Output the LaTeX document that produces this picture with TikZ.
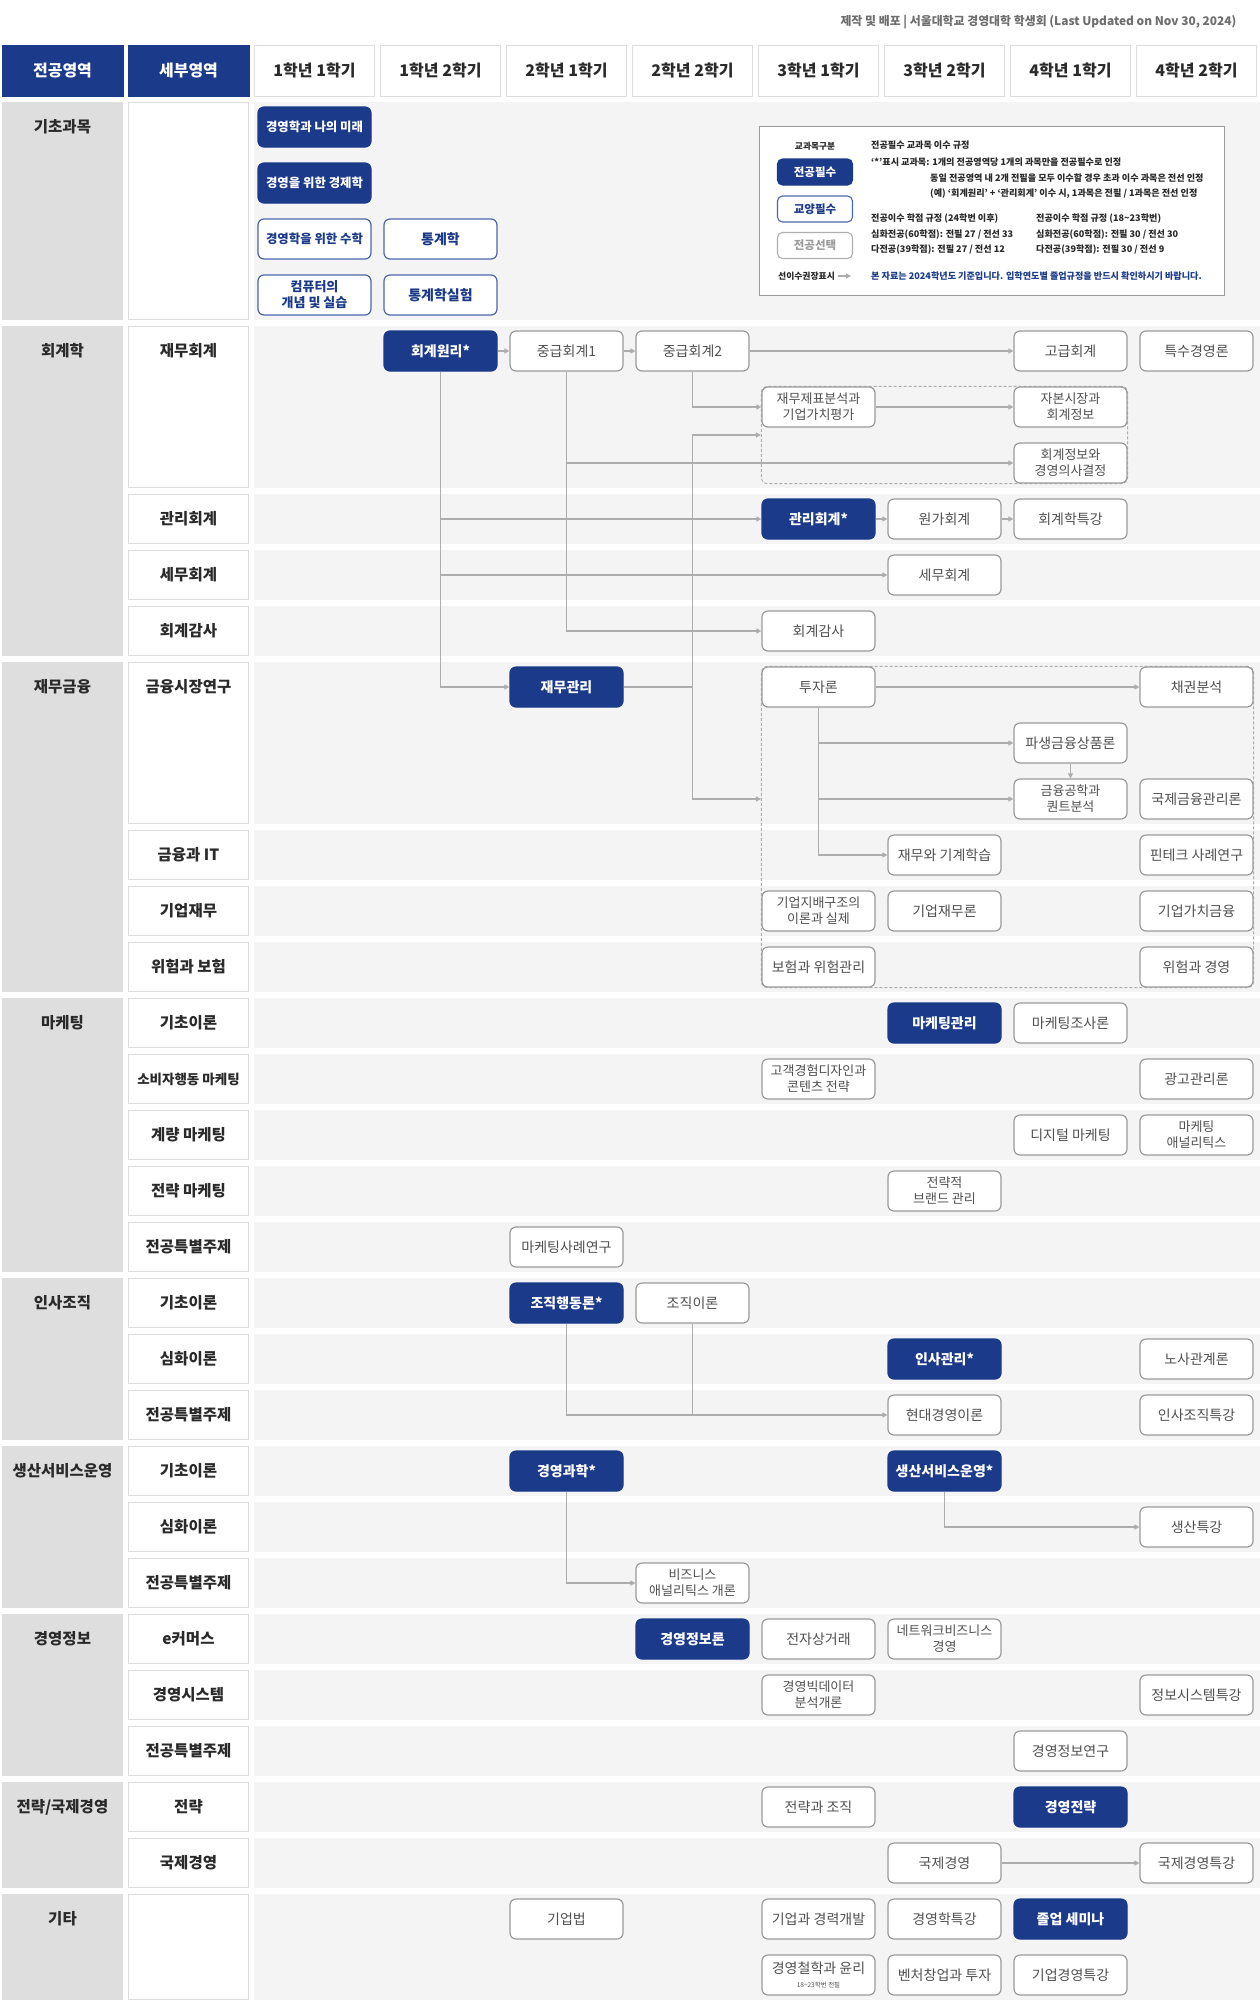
\documentclass[tikz,border=0pt]{standalone}
\usepackage{fontspec}
\setmainfont{Noto Sans CJK KR}
\usetikzlibrary{arrows.meta,fit}
\pgfdeclarelayer{background}
\pgfsetlayers{background,main}

\definecolor{navy}{HTML}{1B3A8A}
\definecolor{libblue}{HTML}{4D66AC}
\definecolor{elecgray}{HTML}{9B9B9B}
\definecolor{electext}{HTML}{505050}
\definecolor{bandgray}{HTML}{F4F4F4}
\definecolor{areagray}{HTML}{DEDEDE}
\definecolor{cellline}{HTML}{DDDDDD}
\definecolor{linkgray}{HTML}{ADADAD}
\definecolor{darktext}{HTML}{2A2A2A}
\definecolor{notegray}{HTML}{6E6E6E}

\newcommand\coursefont{\fontsize{14}{17}\selectfont}
\newcommand\twofont{\fontsize{13}{16}\selectfont}
\newcommand\longfont{\fontsize{12.4}{15}\selectfont}
\newcommand\hdrfont{\fontsize{16}{19}\selectfont\bfseries}
\newcommand\areafont{\fontsize{15.5}{18}\selectfont\bfseries}
\newcommand\legendfont{\fontsize{9.1}{11}\selectfont\bfseries}

\tikzset{
  hdr/.style={draw=navy, fill=navy, text=white, font=\hdrfont, minimum width=121pt, minimum height=51pt, inner sep=0pt},
  semhdr/.style={draw=cellline, fill=white, text=darktext, font=\hdrfont, minimum width=120pt, minimum height=51pt, inner sep=0pt},
  arealabel/.style={text=darktext, font=\areafont, inner sep=0pt},
  sublabel/.style={text=darktext, font=\areafont, inner sep=0pt},
  course/.style={rounded corners=6pt, minimum width=113pt, minimum height=40pt, inner sep=1pt, align=center, line width=1.2pt},
  req/.style={course, draw=navy, fill=navy, text=white, font=\coursefont\bfseries},
  lib/.style={course, draw=libblue, fill=white, text=navy, font=\coursefont\bfseries},
  elec/.style={course, draw=elecgray, fill=white, text=electext, font=\coursefont},
  elec2/.style={elec, font=\twofont},
  joinline/.style={draw=linkgray, line width=1.3pt},
  link/.style={joinline, -{Triangle[length=5pt,width=5pt]}},
  group/.style={draw=linkgray, line width=0.9pt, dash pattern=on 3pt off 2pt, rounded corners=6pt, inner sep=0pt},
  legend/.style={draw=elecgray, fill=white, line width=1pt, minimum width=465pt, minimum height=169pt, inner sep=0pt},
  legbox/.style={course, minimum width=75pt, minimum height=26pt, rounded corners=5pt, line width=1.1pt, font=\fontsize{11.5}{13}\selectfont\bfseries},
  legtxt/.style={anchor=west, inner sep=0pt, text=darktext, font=\legendfont},
}

\begin{document}
\begin{tikzpicture}[x=1pt,y=-1pt]
  \useasboundingbox (0,0) rectangle (1260,2003);
  % grid of columns and row slots
  \foreach \i in {0,...,9} \coordinate (c\i) at ({62.5+126*\i},0);
  \foreach \k in {0,...,33} \coordinate (r\k) at (0,{127+56*\k});
  \coordinate (rh) at (0,70.5);

  \node[anchor=east, text=notegray, font=\fontsize{11.9}{14}\selectfont\bfseries] (credit) at (1240,22) {제작 및 배포 | 서울대학교 경영대학 학생회 (Last Updated on Nov 30, 2024)};

  % header
  \node[hdr] (hdarea) at (c0 |- rh) {전공영역};
  \node[hdr] (hdsub) at (c1 |- rh) {세부영역};
  \foreach \i [evaluate=\i as \yr using {int((\i-2)/2+1)}, evaluate=\i as \sm using {int(mod(\i,2)+1)}] in {2,...,9}
    \node[semhdr] (sem\i) at (c\i |- rh) {\yr{}학년 \sm{}학기};

  % bands
  \begin{pgfonlayer}{background}
    \fill[white] (0,0) rectangle (1260,2003);
    \foreach \k/\nr/\lab in {0/4/기초과목, 4/6/회계학, 10/6/재무금융, 16/5/마케팅, 21/3/인사조직, 24/3/생산서비스운영, 27/3/경영정보, 30/2/{전략/국제경영}, 32/2/기타} {
      \fill[areagray] (2,{102+56*\k}) rectangle (123,{96+56*(\k+\nr)});
      \node[arealabel] (area\k) at (c0 |- r\k) {\lab};
    }
    \foreach \k/\nr/\lab in {0/4/{}, 4/3/재무회계, 7/1/관리회계, 8/1/세무회계, 9/1/회계감사, 10/3/금융시장연구, 13/1/금융과 IT, 14/1/기업재무, 15/1/위험과 보험, 16/1/기초이론, 17/1/{\fontsize{13.5}{16}\selectfont 소비자행동 마케팅}, 18/1/계량 마케팅, 19/1/전략 마케팅, 20/1/전공특별주제, 21/1/기초이론, 22/1/심화이론, 23/1/전공특별주제, 24/1/기초이론, 25/1/심화이론, 26/1/전공특별주제, 27/1/e커머스, 28/1/경영시스템, 29/1/전공특별주제, 30/1/전략, 31/1/국제경영, 32/2/{}} {
      \fill[bandgray] (254,{102+56*\k}) rectangle (1260,{96+56*(\k+\nr)});
      \draw[cellline, fill=white] (128.5,{102.5+56*\k}) rectangle (248.5,{95.5+56*(\k+\nr)});
      \node[sublabel] (sub\k) at (c1 |- r\k) {\lab};
    }
  \end{pgfonlayer}

  % legend
  \node[legend] (legend) at (991.5,210.5) {};
  \node[text=darktext, font=\fontsize{8.7}{10}\selectfont\bfseries, inner sep=0pt] (lgcat) at (815,146) {교과목구분};
  \node[legbox, draw=navy, fill=navy, text=white] (lgreq) at (815,172) {전공필수};
  \node[legbox, draw=libblue, fill=white, text=navy] (lglib) at (815,209) {교양필수};
  \node[legbox, draw=elecgray!80, fill=white, text=elecgray] (lgelec) at (815,245.5) {전공선택};
  \node[legtxt, font=\fontsize{8.8}{10}\selectfont\bfseries] (lgpre) at (778,276) {선이수권장표시};
  \coordinate (lgpreend) at ([xshift=16pt]lgpre.east);
  \draw[link] ([xshift=3pt]lgpre.east) -- (lgpreend);
  \node[legtxt] (rule1) at (871,145) {전공필수 교과목 이수 규정};
  \node[legtxt] (rule2) at (871,162) {`*'표시 교과목: 1개의 전공영역당 1개의 과목만을 전공필수로 인정};
  \node[legtxt] (rule3) at (930,178.5) {동일 전공영역 내 2개 전필을 모두 이수할 경우 초과 이수 과목은 전선 인정};
  \node[legtxt] (rule4) at (930,194) {(예) `회계원리' + `관리회계' 이수 시, 1과목은 전필 / 1과목은 전선 인정};
  \node[legtxt] (cred1) at (871,219) {전공이수 학점 규정 (24학번 이후)};
  \node[legtxt] (cred2) at (871,234.5) {심화전공(60학점): 전필 27 / 전선 33};
  \node[legtxt] (cred3) at (871,250) {다전공(39학점): 전필 27 / 전선 12};
  \node[legtxt] (old1) at (1036,219) {전공이수 학점 규정 (18\textasciitilde23학번)};
  \node[legtxt] (old2) at (1036,234.5) {심화전공(60학점): 전필 30 / 전선 30};
  \node[legtxt] (old3) at (1036,250) {다전공(39학점): 전필 30 / 전선 9};
  \node[legtxt, text=navy] (notice) at (871,276) {본 자료는 2024학년도 기준입니다. 입학연도별 졸업규정을 반드시 확인하시기 바랍니다.};

  % 기초과목
  \node[req, font=\longfont\bfseries] (intro) at (c2 |- r0) {경영학과 나의 미래};
  \node[req, font=\longfont\bfseries] (econ) at (c2 |- r1) {경영을 위한 경제학};
  \node[lib, font=\longfont\bfseries] (math) at (c2 |- r2) {경영학을 위한 수학};
  \node[lib] (stat) at (c3 |- r2) {통계학};
  \node[lib, font=\twofont\bfseries] (comp) at (c2 |- r3) {컴퓨터의\\개념 및 실습};
  \node[lib] (statlab) at (c3 |- r3) {통계학실험};

  % 회계학
  \node[req] (acct) at (c3 |- r4) {회계원리*};
  \node[elec] (ia1) at (c4 |- r4) {중급회계1};
  \node[elec] (ia2) at (c5 |- r4) {중급회계2};
  \node[elec] (adv) at (c8 |- r4) {고급회계};
  \node[elec] (spec) at (c9 |- r4) {특수경영론};
  \node[elec2] (fsa) at (c6 |- r5) {재무제표분석과\\기업가치평가};
  \node[elec2] (capm) at (c8 |- r5) {자본시장과\\회계정보};
  \node[elec2] (aidm) at (c8 |- r6) {회계정보와\\경영의사결정};
  \node[req] (mgacct) at (c6 |- r7) {관리회계*};
  \node[elec] (cost) at (c7 |- r7) {원가회계};
  \node[elec] (acsp) at (c8 |- r7) {회계학특강};
  \node[elec] (tax) at (c7 |- r8) {세무회계};
  \node[elec] (audit) at (c6 |- r9) {회계감사};

  % 재무금융
  \node[req] (fin) at (c4 |- r10) {재무관리};
  \node[elec] (invest) at (c6 |- r10) {투자론};
  \node[elec] (bond) at (c9 |- r10) {채권분석};
  \node[elec] (deriv) at (c8 |- r11) {파생금융상품론};
  \node[elec2] (quant) at (c8 |- r12) {금융공학과\\퀀트분석};
  \node[elec] (intfin) at (c9 |- r12) {국제금융관리론};
  \node[elec] (fml) at (c7 |- r13) {재무와 기계학습};
  \node[elec] (fintech) at (c9 |- r13) {핀테크 사례연구};
  \node[elec2] (gov) at (c6 |- r14) {기업지배구조의\\이론과 실제};
  \node[elec] (corpfin) at (c7 |- r14) {기업재무론};
  \node[elec] (valfin) at (c9 |- r14) {기업가치금융};
  \node[elec] (insur) at (c6 |- r15) {보험과 위험관리};
  \node[elec] (riskmgt) at (c9 |- r15) {위험과 경영};

  % 마케팅
  \node[req] (mkt) at (c7 |- r16) {마케팅관리};
  \node[elec] (mktres) at (c8 |- r16) {마케팅조사론};
  \node[elec2] (cx) at (c6 |- r17) {고객경험디자인과\\콘텐츠 전략};
  \node[elec] (ad) at (c9 |- r17) {광고관리론};
  \node[elec] (digital) at (c8 |- r18) {디지털 마케팅};
  \node[elec2] (analytics) at (c9 |- r18) {마케팅\\애널리틱스};
  \node[elec2] (brand) at (c7 |- r19) {전략적\\브랜드 관리};
  \node[elec] (mktcase) at (c4 |- r20) {마케팅사례연구};

  % 인사조직
  \node[req] (ob) at (c4 |- r21) {조직행동론*};
  \node[elec] (ot) at (c5 |- r21) {조직이론};
  \node[req] (hrm) at (c7 |- r22) {인사관리*};
  \node[elec] (labor) at (c9 |- r22) {노사관계론};
  \node[elec] (mmt) at (c7 |- r23) {현대경영이론};
  \node[elec] (hrsp) at (c9 |- r23) {인사조직특강};

  % 생산서비스운영
  \node[req] (ms) at (c4 |- r24) {경영과학*};
  \node[req] (pso) at (c7 |- r24) {생산서비스운영*};
  \node[elec] (pssp) at (c9 |- r25) {생산특강};
  \node[elec2] (ba) at (c5 |- r26) {비즈니스\\애널리틱스 개론};

  % 경영정보
  \node[req] (mis) at (c5 |- r27) {경영정보론};
  \node[elec] (ecom) at (c6 |- r27) {전자상거래};
  \node[elec2] (netbiz) at (c7 |- r27) {네트워크비즈니스\\경영};
  \node[elec2] (bigdata) at (c6 |- r28) {경영빅데이터\\분석개론};
  \node[elec] (issp) at (c9 |- r28) {정보시스템특강};
  \node[elec] (misres) at (c8 |- r29) {경영정보연구};

  % 전략/국제경영
  \node[elec] (strorg) at (c6 |- r30) {전략과 조직};
  \node[req] (strat) at (c8 |- r30) {경영전략};
  \node[elec] (ib) at (c7 |- r31) {국제경영};
  \node[elec] (ibsp) at (c9 |- r31) {국제경영특강};

  % 기타
  \node[elec] (law) at (c4 |- r32) {기업법};
  \node[elec] (career) at (c6 |- r32) {기업과 경력개발};
  \node[elec] (bizsp) at (c7 |- r32) {경영학특강};
  \node[req] (seminar) at (c8 |- r32) {졸업 세미나};
  \node[elec] (ethics) at (c6 |- r33) {경영철학과 윤리\\[-3pt]{\fontsize{6.5}{7}\selectfont 18\textasciitilde23학번 전필}};
  \node[elec] (venture) at (c7 |- r33) {벤처창업과 투자};
  \node[elec] (corpsp) at (c8 |- r33) {기업경영특강};

  % dashed groups
  \begin{pgfonlayer}{background}
    \node[group, fit=(fsa)(capm)(aidm)] (acgrp) {};
    \node[group, fit=(invest)(riskmgt)] (figrp) {};
  \end{pgfonlayer}

  % prerequisites
  \draw[link] (acct) -- (ia1);
  \draw[link] (ia1) -- (ia2);
  \draw[link] (ia2) -- (adv);
  \draw[link] (ia2.south) |- (fsa.west);
  \draw[link] (fsa) -- (capm);
  \draw[link] (acct.south) |- (mgacct.west);
  \draw[link] (acct.south) |- (tax.west);
  \draw[link] (acct.south) |- (fin.west);
  \draw[link] (ia1.south) |- (aidm.west);
  \draw[link] (ia1.south) |- (audit.west);
  \draw[link] (mgacct) -- (cost);
  \draw[link] (cost) -- (acsp);
  \draw[link] (fin.east) -| (c5 |- acgrp.west) -- (acgrp.west);
  \draw[link] (fin.east) -| (c5 |- quant.west) -- (figrp.west |- quant.west);
  \draw[link] (invest) -- (bond);
  \draw[link] (invest.south) |- (deriv.west);
  \draw[link] (invest.south) |- (quant.west);
  \draw[link] (invest.south) |- (fml.west);
  \draw[link] (deriv) -- (quant);
  \draw[link] (ob.south) |- (mmt.west);
  \draw[joinline] (ot.south) -- (ot.south |- mmt.west);
  \draw[link] (ms.south) |- (ba.west);
  \draw[link] (pso.south) |- (pssp.west);
  \draw[link] (ib) -- (ibsp);
\end{tikzpicture}
\end{document}
